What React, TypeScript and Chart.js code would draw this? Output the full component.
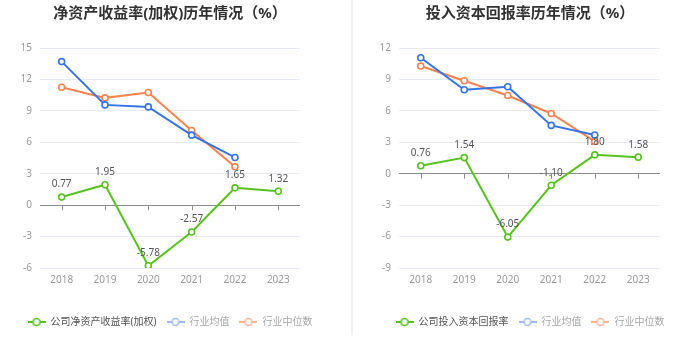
import React, { useEffect, useRef } from "react";
import { Chart, registerables } from "chart.js";

Chart.register(...registerables);

// ---------- data ----------
const years = ["2018", "2019", "2020", "2021", "2022", "2023"];

const roeTitle = "净资产收益率(加权)历年情况（%）";
const roeNames = ["公司净资产收益率(加权)", "行业均值", "行业中位数"];
const roeCompany = [0.77, 1.95, -5.78, -2.57, 1.65, 1.32];
const roeIndustryAvg = [13.7, 9.57, 9.38, 6.68, 4.55, null];
const roeIndustryMedian = [11.26, 10.24, 10.75, 7.13, 3.66, null];
const roeAxis = { min: -6, max: 15, step: 3 };

const roicTitle = "投入资本回报率历年情况（%）";
const roicNames = ["公司投入资本回报率", "行业均值", "行业中位数"];
const roicCompany = [0.76, 1.54, -6.05, -1.1, 1.8, 1.58];
const roicIndustryAvg = [11.07, 8.02, 8.3, 4.61, 3.69, null];
const roicIndustryMedian = [10.28, 8.87, 7.47, 5.75, 3.08, null];
const roicAxis = { min: -9, max: 12, step: 3 };

// ---------- styles ----------
const FONT = '"Noto Sans", "Noto Sans CJK SC", sans-serif';
const GREEN = "#57c21f";
const BLUE = "#3673e8";
const ORANGE = "#f8834f";
const BLUE_LEGEND = "#9fbdf4";
const ORANGE_LEGEND = "#fbb699";

function makeIcon(color: string): HTMLCanvasElement {
  const c = document.createElement("canvas");
  c.width = 18;
  c.height = 10;
  const g = c.getContext("2d")!;
  g.strokeStyle = color;
  g.lineWidth = 2;
  g.beginPath();
  g.moveTo(0, 5);
  g.lineTo(18, 5);
  g.stroke();
  g.beginPath();
  g.arc(9, 5, 3.5, 0, Math.PI * 2);
  g.fillStyle = "#fff";
  g.fill();
  g.lineWidth = 1.6;
  g.stroke();
  return c;
}

const zeroTicksPlugin = {
  id: "zeroTicks",
  beforeDatasetsDraw(chart: any) {
    const x = chart.scales.x;
    const y = chart.scales.y;
    const y0 = y.getPixelForValue(0);
    const ctx = chart.ctx;
    ctx.save();
    ctx.strokeStyle = "#8c8c8c";
    ctx.lineWidth = 1;
    for (let i = 0; i < chart.data.labels.length; i++) {
      const px = Math.round(x.getPixelForValue(i)) + 0.5;
      ctx.beginPath();
      ctx.moveTo(px, y0);
      ctx.lineTo(px, y0 + 5);
      ctx.stroke();
    }
    ctx.restore();
  },
};

const valueLabelPlugin = {
  id: "valueLabels",
  afterDatasetsDraw(chart: any) {
    const meta = chart.getDatasetMeta(0);
    const data = chart.data.datasets[0].data;
    const ctx = chart.ctx;
    ctx.save();
    ctx.font = `10px ${FONT}`;
    ctx.fillStyle = "#555";
    ctx.textAlign = "center";
    ctx.textBaseline = "middle";
    meta.data.forEach((pt: any, i: number) => {
      const v = data[i];
      if (v == null) return;
      ctx.fillText(Number(v).toFixed(2), pt.x, pt.y - 12.5);
    });
    ctx.restore();
  },
};

type PanelProps = {
  title: string;
  names: string[];
  company: (number | null)[];
  avg: (number | null)[];
  median: (number | null)[];
  axis: { min: number; max: number; step: number };
  left: number;
  padLeft: number;
  yWidth: number;
};

function Panel(p: PanelProps) {
  const ref = useRef<HTMLCanvasElement>(null);
  useEffect(() => {
    const icons = [makeIcon(GREEN), makeIcon(BLUE_LEGEND), makeIcon(ORANGE_LEGEND)];
    const textColors = ["#555", "#a6a6a6", "#a6a6a6"];
    const ds = (label: string, data: any[], color: string) => ({
      label,
      data,
      borderColor: color,
      backgroundColor: "#fff",
      borderWidth: 2,
      pointRadius: 3,
      pointBorderWidth: 1.6,
      pointBackgroundColor: "#fff",
      pointBorderColor: color,
      tension: 0,
      spanGaps: false,
    });
    const chart = new Chart(ref.current!, {
      type: "line",
      data: {
        labels: years,
        datasets: [
          ds(p.names[0], p.company, GREEN),
          ds(p.names[1], p.avg, BLUE),
          ds(p.names[2], p.median, ORANGE),
        ],
      },
      plugins: [zeroTicksPlugin, valueLabelPlugin],
      options: {
        responsive: false,
        animation: false,
        events: [],
        layout: { padding: { left: p.padLeft, right: 10 - p.padLeft, top: 0, bottom: 23 } },
        plugins: {
          tooltip: { enabled: false },
          title: {
            display: true,
            text: p.title,
            color: "#333",
            font: { family: FONT, size: 15, weight: "bold" },
            padding: { top: 5, bottom: 25 },
          },
          legend: {
            display: true,
            position: "bottom",
            labels: {
              usePointStyle: true,
              pointStyleWidth: 18,
              padding: 10,
              font: { family: FONT, size: 10 },
              generateLabels: (c: any) =>
                c.data.datasets.map((d: any, i: number) => ({
                  text: d.label,
                  fontColor: textColors[i],
                  pointStyle: icons[i],
                  fillStyle: "transparent",
                  strokeStyle: "transparent",
                  lineWidth: 0,
                  hidden: false,
                  datasetIndex: i,
                })),
            },
          },
        },
        scales: {
          x: {
            offset: true,
            grid: { display: false, drawTicks: false, offset: true },
            border: { display: false },
            ticks: { color: "#999", padding: 6, font: { family: FONT, size: 10 } },
            afterFit: (s: any) => {
              s.height = 39;
            },
          },
          y: {
            min: p.axis.min,
            max: p.axis.max,
            ticks: {
              stepSize: p.axis.step,
              color: "#999",
              padding: 8,
              font: { family: FONT, size: 10 },
            },
            grid: {
              drawTicks: false,
              color: (c: any) => (c.tick && c.tick.value === 0 ? "#8c8c8c" : "#e6eaf2"),
              lineWidth: 1,
            },
            border: { display: false },
            afterFit: (s: any) => {
              s.width = p.yWidth;
            },
          },
          yR: {
            position: "right",
            min: 0,
            max: 1,
            grid: { display: false, drawTicks: false },
            ticks: { display: false },
            border: { display: false },
            afterFit: (s: any) => {
              s.width = 40;
            },
          },
        },
      } as any,
    });
    return () => chart.destroy();
  }, []);
  return (
    <div style={{ position: "absolute", left: p.left, top: 0, width: 350, height: 360 }}>
      <canvas ref={ref} width={350} height={360} style={{ display: "block" }} />
    </div>
  );
}

export default function App() {
  return (
    <div
      style={{
        position: "absolute",
        left: 0,
        top: 0,
        width: 700,
        height: 360,
        background: "#fff",
        overflow: "hidden",
      }}
    >
      <Panel
        title={roeTitle}
        names={roeNames}
        company={roeCompany}
        avg={roeIndustryAvg}
        median={roeIndustryMedian}
        axis={roeAxis}
        left={0}
        padLeft={0}
        yWidth={40}
      />
      <Panel
        title={roicTitle}
        names={roicNames}
        company={roicCompany}
        avg={roicIndustryAvg}
        median={roicIndustryMedian}
        axis={roicAxis}
        left={350}
        padLeft={10}
        yWidth={39}
      />
      <div
        style={{
          position: "absolute",
          left: 351,
          top: 0,
          width: 2,
          height: 335,
          background: "#f2f2f2",
        }}
      />
    </div>
  );
}
